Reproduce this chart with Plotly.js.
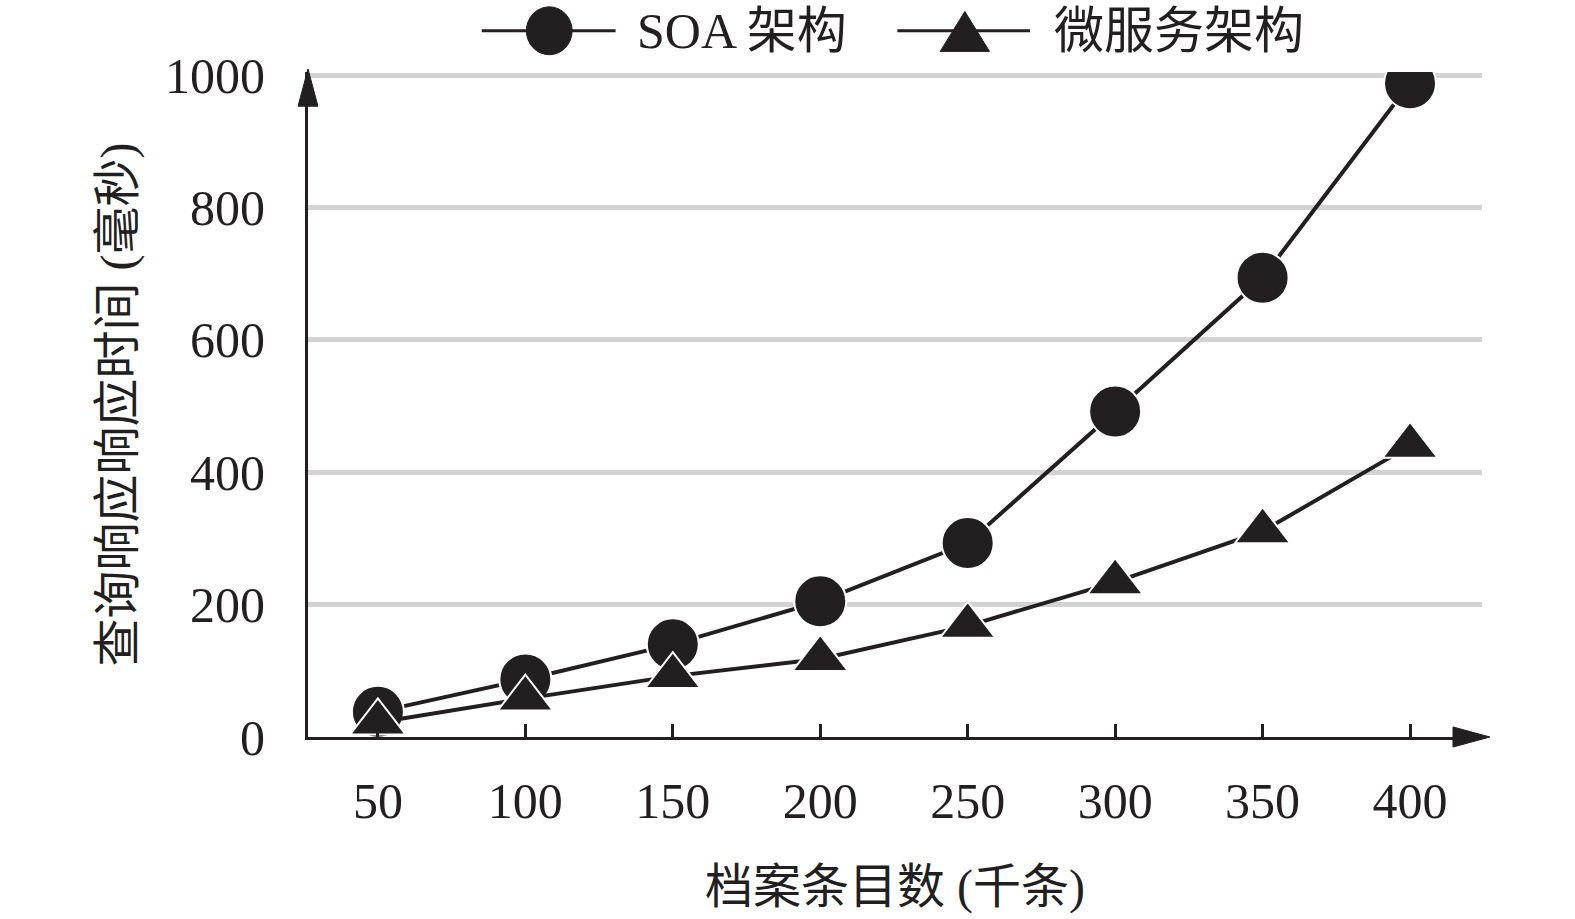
<!DOCTYPE html>
<html>
<head>
<meta charset="utf-8">
<script src="https://cdn.plot.ly/plotly-3.0.1.min.js"></script>
<style>
  body { margin: 0; background: white; }
  #chart { width: 1575px; height: 919px; }
</style>
</head>
<body>
<div id="chart"></div>
<script>
// Data
const records = [50, 100, 150, 200, 250, 300, 350, 400];
const soaTimes = [38, 87, 140, 205, 293, 492, 694, 988];
const microTimes = [22, 58, 92, 118, 168, 234, 311, 440];
const yTicks = [0, 200, 400, 600, 800, 1000];

const ink = '#231f20';
const font = '"Liberation Serif", "Times New Roman", "Noto Sans CJK SC", serif';

const traces = [
    {
        x: records,
        y: soaTimes,
        mode: 'lines+markers',
        type: 'scatter',
        name: 'SOA 架构',
        line: { color: ink, width: 4 },
        marker: { symbol: 'circle', size: 52, color: ink, line: { color: 'white', width: 2 } },
        showlegend: false
    },
    {
        x: records,
        y: microTimes,
        mode: 'lines+markers',
        type: 'scatter',
        name: '微服务架构',
        line: { color: ink, width: 4 },
        marker: { symbol: 'triangle-up', size: 48, color: ink, line: { color: 'white', width: 2 } },
        showlegend: false
    }
];

// Hand-made legend (long line segments like the original)
const legendShapes = [
    { type: 'line', xref: 'paper', yref: 'paper', x0: 0.148, x1: 0.262, y0: 1.062, y1: 1.062, line: { color: ink, width: 3 } },
    { type: 'circle', xref: 'paper', yref: 'paper', x0: 0.186, x1: 0.225, y0: 1.026, y1: 1.098, fillcolor: ink, line: { color: ink, width: 1 } },
    { type: 'line', xref: 'paper', yref: 'paper', x0: 0.502, x1: 0.615, y0: 1.062, y1: 1.062, line: { color: ink, width: 3 } },
    { type: 'path', xref: 'paper', yref: 'paper', path: 'M 0.5385 1.031 L 0.5805 1.031 L 0.5595 1.091 Z', fillcolor: ink, line: { color: ink, width: 1 } }
];

// Axis arrowheads
const arrowShapes = [
    { type: 'path', xref: 'paper', yref: 'paper', path: 'M 0.9753 -0.0151 L 1.0068 0 L 0.9753 0.0151 Z', fillcolor: ink, line: { color: ink, width: 1 } },
    { type: 'path', xref: 'paper', yref: 'paper', path: 'M -0.0085 0.9486 L 0 1.0045 L 0.0085 0.9486 Z', fillcolor: ink, line: { color: ink, width: 1 } }
];

const layout = {
    width: 1575,
    height: 919,
    margin: { l: 308, r: 93, t: 72, b: 182 },
    paper_bgcolor: 'white',
    plot_bgcolor: 'white',
    font: { family: font, color: ink, size: 48 },
    showlegend: false,
    xaxis: {
        range: [26.3, 424.4],
        tickvals: records,
        ticktext: records.map(String),
        ticks: 'inside',
        ticklen: 13,
        tickwidth: 3,
        tickcolor: ink,
        ticklabelstandoff: 18,
        showgrid: false,
        zeroline: false,
        showline: true,
        linecolor: ink,
        linewidth: 3,
        tickfont: { family: font, size: 50, color: ink },
        title: { text: '档案条目数 (千条)', font: { family: font, size: 48, color: ink }, standoff: 42 }
    },
    yaxis: {
        range: [0, 1005],
        tickvals: yTicks,
        ticks: '',
        showgrid: true,
        gridcolor: '#d3d3d3',
        gridwidth: 5,
        zeroline: false,
        showline: true,
        linecolor: ink,
        linewidth: 3,
        ticklabelstandoff: 30,
        tickfont: { family: font, size: 50, color: ink },
        title: { text: '查询响应响应时间 (毫秒)', font: { family: font, size: 48, color: ink }, standoff: 16 }
    },
    shapes: legendShapes.concat(arrowShapes),
    annotations: [
        { xref: 'paper', yref: 'paper', x: 0.2785, y: 1.062, xanchor: 'left', yanchor: 'middle', text: 'SOA 架构', showarrow: false, font: { family: font, size: 50, color: ink } },
        { xref: 'paper', yref: 'paper', x: 0.634, y: 1.062, xanchor: 'left', yanchor: 'middle', text: '微服务架构', showarrow: false, font: { family: font, size: 50, color: ink } }
    ]
};

Plotly.newPlot('chart', traces, layout, { displayModeBar: false, responsive: false });
</script>
</body>
</html>
